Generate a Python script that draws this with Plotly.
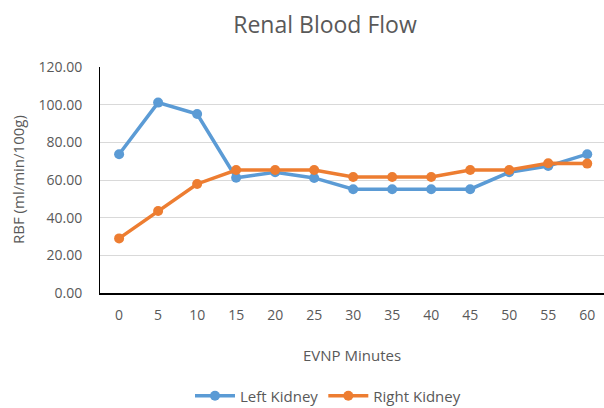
import plotly.graph_objects as go

minutes = ["0", "5", "10", "15", "20", "25", "30", "35", "40", "45", "50", "55", "60"]
left_kidney = [73.7, 101.1, 95.0, 61.2, 64.1, 61.1, 55.1, 55.1, 55.1, 55.1, 64.1, 67.4, 73.7]
right_kidney = [29.0, 43.5, 57.9, 65.3, 65.3, 65.3, 61.6, 61.6, 61.6, 65.3, 65.3, 68.9, 68.7]
y_ticks = [0, 20, 40, 60, 80, 100, 120]

font_fam = "Open Sans, Liberation Sans, Arial, sans-serif"
gray = "#595959"

fig = go.Figure()
fig.add_trace(go.Scatter(x=minutes, y=left_kidney, name="Left Kidney", mode="lines+markers",
                         line=dict(color="#5B9BD5", width=3.5), marker=dict(size=10, color="#5B9BD5")))
fig.add_trace(go.Scatter(x=minutes, y=right_kidney, name="Right Kidney", mode="lines+markers",
                         line=dict(color="#ED7D31", width=3.5), marker=dict(size=10, color="#ED7D31")))

# plot area: x 100..604, y 67..293 (px)
def py(p):
    return (293 - p) / 226

def px(p):
    return (p - 100) / 504

fig.update_layout(
    width=604, height=408,
    margin=dict(l=100, r=0, t=67, b=115, autoexpand=False),
    paper_bgcolor="white", plot_bgcolor="white",
    title=dict(text="Renal Blood Flow", x=325 / 604, xanchor="center", xref="container",
               yref="container", y=1 - 25 / 408, yanchor="middle",
               font=dict(family=font_fam, size=23, color=gray)),
    font=dict(family=font_fam, size=14, color=gray),
    xaxis=dict(type="category", range=[-0.49, 12.43], showgrid=False, showline=True,
               linecolor="black", linewidth=2,
               ticks="", automargin=False, ticklabelstandoff=8,
               tickfont=dict(size=14, color=gray)),
    yaxis=dict(range=[0, 120], tickvals=y_ticks, tickformat=".2f", showgrid=True, gridcolor="#d9d9d9",
               gridwidth=1, showline=True, linecolor="black", linewidth=1, zeroline=False, ticks="",
               automargin=False, ticklabelstandoff=14,
               tickfont=dict(size=14, color=gray)),
    legend=dict(orientation="h", x=px(328), xanchor="center", yref="container", y=12 / 408, yanchor="middle",
                font=dict(size=15, color=gray), itemwidth=40),
    showlegend=True,
    annotations=[
        dict(text="EVNP Minutes", xref="paper", yref="paper", x=0.5, y=py(355),
             xanchor="center", yanchor="middle", showarrow=False, font=dict(size=15, color=gray)),
        dict(text="RBF (ml/min/100g)", xref="paper", yref="paper", x=px(18), y=py(180),
             xanchor="center", yanchor="middle", textangle=-90, showarrow=False,
             font=dict(size=15, color=gray)),
    ],
)

fig.write_html("out.html", config={"displayModeBar": False},
               post_script="document.body.style.margin='0';")
